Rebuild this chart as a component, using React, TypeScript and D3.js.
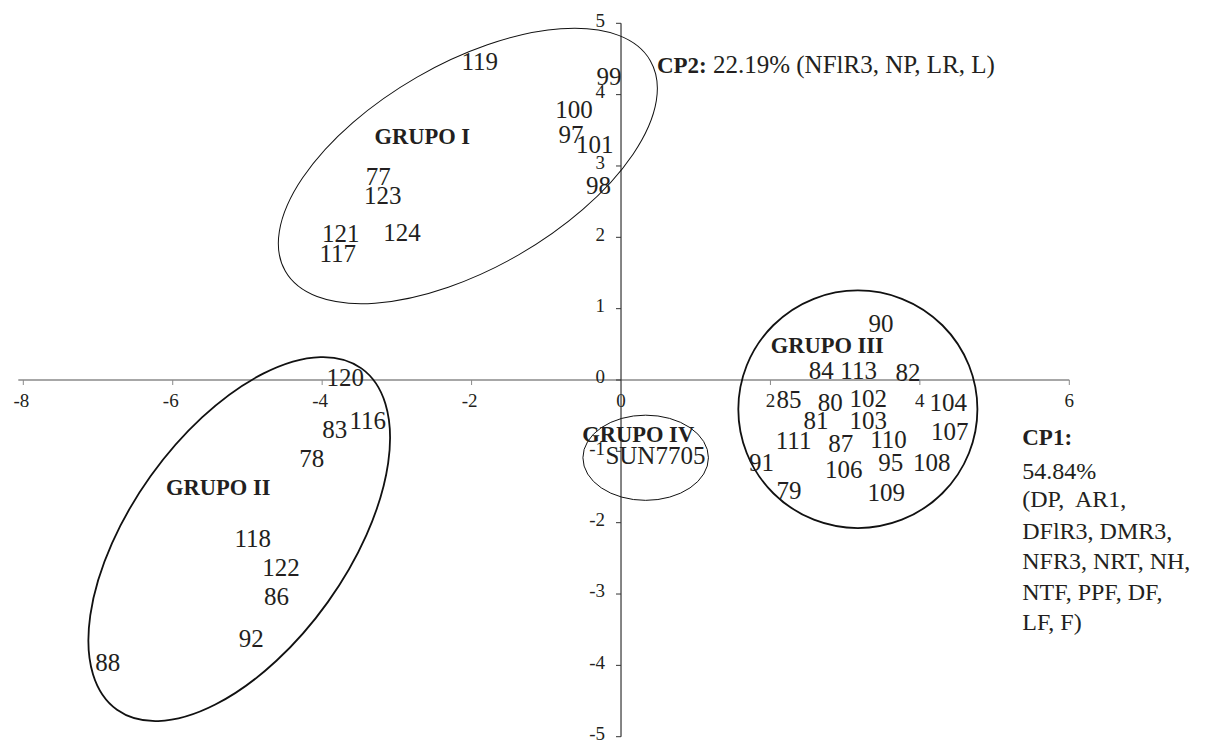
import React from 'react'
import * as d3 from 'd3'

const WIDTH = 1205
const HEIGHT = 740

// cultivar labels with their scores on CP1 / CP2
const cultivars = [
  '119', '99', '100', '97', '101', '98', '77', '123', '121', '124', '117',
  '120', '116', '83', '78', '118', '122', '86', '92', '88',
  '90', '84', '113', '82', '85', '80', '102', '104', '81', '103', '107',
  '111', '87', '110', '91', '106', '95', '108', '79', '109',
  'SUN7705',
]
const cp1 = [
  -1.89, -0.16, -0.63, -0.67, -0.35, -0.3, -3.25, -3.19, -3.75, -2.93, -3.79,
  -3.69, -3.39, -3.83, -4.14, -4.93, -4.55, -4.61, -4.95, -6.87,
  3.48, 2.68, 3.18, 3.84, 2.25, 2.8, 3.31, 4.38, 2.61, 3.31, 4.4,
  2.31, 2.94, 3.58, 1.88, 2.98, 3.61, 4.16, 2.25, 3.55,
  0.46,
]
const cp2 = [
  4.46, 4.26, 3.79, 3.44, 3.3, 2.73, 2.85, 2.59, 2.05, 2.07, 1.77,
  0.03, -0.57, -0.69, -1.1, -2.22, -2.63, -3.03, -3.63, -3.96,
  0.79, 0.13, 0.13, 0.11, -0.28, -0.31, -0.26, -0.31, -0.57, -0.57, -0.72,
  -0.85, -0.89, -0.83, -1.15, -1.25, -1.16, -1.15, -1.55, -1.58,
  -1.06,
]

// group outlines (centre in CP units, radii in CP1 units, rotation in degrees)
const groupNames = ['GRUPO I', 'GRUPO II', 'GRUPO III', 'GRUPO IV']
const groupLabelX = [-2.66, -5.39, 2.76, 0.23]
const groupLabelY = [3.41, -1.51, 0.48, -0.76]
const groupCx = [-2.05, -5.11, 3.17, 0.33]
const groupCy = [3.0, -2.23, -0.41, -1.09]
const groupRx = [2.82, 2.81, 1.6, 0.84]
const groupRy = [1.37, 1.455, 1.59, 0.57]
const groupAngle = [-30, -54.4, 0, 0]

const xTicks = [-8, -6, -4, -2, 0, 2, 4, 6]
const yTicks = [-5, -4, -3, -2, -1, 0, 1, 2, 3, 4, 5]

const cp1Lines = ['54.84%', '(DP,  AR1,', 'DFlR3, DMR3,', 'NFR3, NRT, NH,', 'NTF, PPF, DF,', 'LF, F)']
const cp1LineOffsets = [34, 62, 94, 124, 155, 185]

const FONT = '"Liberation Serif", "Times New Roman", serif'
const INK = '#231f20'

export default function App() {
  const x = d3.scaleLinear().domain([-8, 6]).range([23.3, 1069.3])
  const y = d3.scaleLinear().domain([-5, 5]).range([736.7, 23.3])
  const unit = x(1) - x(0)
  const x0 = x(0)
  const y0 = y(0)

  return (
    <div style={{ position: 'absolute', left: 0, top: 0 }}>
      <svg width={WIDTH} height={HEIGHT} style={{ display: 'block', background: '#fff' }}>
        {/* x axis */}
        <line x1={x(-8) - 5} x2={x(6)} y1={y0} y2={y0} stroke="#8a8a8a" strokeWidth={1.5} />
        {xTicks.map((t) => (
          <g key={'xt' + t}>
            {t !== 0 && <line x1={x(t)} x2={x(t)} y1={y0} y2={y0 + 5} stroke="#8a8a8a" strokeWidth={1} />}
            <text x={x(t) - (t < 0 ? 2 : 0)} y={y0 + 27} textAnchor="middle" fontFamily={FONT} fontSize={19} fill={INK}>
              {t}
            </text>
          </g>
        ))}

        {/* y axis */}
        <line x1={x0} x2={x0} y1={y(5)} y2={y(-5)} stroke="#333" strokeWidth={1.2} />
        {yTicks.map((t) => (
          <g key={'yt' + t}>
            <line x1={x0 - 5} x2={x0} y1={y(t)} y2={y(t)} stroke="#333" strokeWidth={1} />
            <text x={x0 - 16} y={y(t) - 3} dy="0.34em" textAnchor="end" fontFamily={FONT} fontSize={19} fill={INK}>
              {t}
            </text>
          </g>
        ))}

        {/* group ellipses */}
        {groupNames.map((g, i) => (
          <ellipse
            key={'el' + g}
            cx={0}
            cy={0}
            rx={groupRx[i] * unit}
            ry={groupRy[i] * unit}
            transform={`translate(${x(groupCx[i])},${y(groupCy[i])}) rotate(${groupAngle[i]})`}
            fill="none"
            stroke="#111"
            strokeWidth={i === 0 || i === 3 ? 1 : 1.8}
          />
        ))}

        {/* cultivar labels */}
        {cultivars.map((c, i) => (
          <text
            key={'c' + c}
            x={x(cp1[i])}
            y={y(cp2[i])}
            dy="0.34em"
            textAnchor="middle"
            fontFamily={FONT}
            fontSize={25}
            fill={INK}
          >
            {c}
          </text>
        ))}

        {/* group names */}
        {groupNames.map((g, i) => (
          <text
            key={'gn' + g}
            x={x(groupLabelX[i])}
            y={y(groupLabelY[i])}
            dy="0.34em"
            textAnchor="middle"
            fontFamily={FONT}
            fontSize={22.5}
            fontWeight="bold"
            fill={INK}
          >
            {g}
          </text>
        ))}

        {/* axis titles */}
        <text x={x(0.48)} y={y(4.31)} fontFamily={FONT} fontSize={25} fill={INK}>
          <tspan fontWeight="bold" fontSize={23}>CP2:</tspan> 22.19% (NFlR3, NP, LR, L)
        </text>
        <text x={x(5.37)} y={y(-0.911)} fontFamily={FONT} fontSize={23} fontWeight="bold" fill={INK}>
          CP1:
        </text>
        {cp1Lines.map((l, i) => (
          <text
            key={'cp1' + i}
            x={x(5.37)}
            y={y(-0.911) + cp1LineOffsets[i]}
            fontFamily={FONT}
            fontSize={24}
            fill={INK}
            style={{ whiteSpace: 'pre' }}
          >
            {l}
          </text>
        ))}
      </svg>
    </div>
  )
}
